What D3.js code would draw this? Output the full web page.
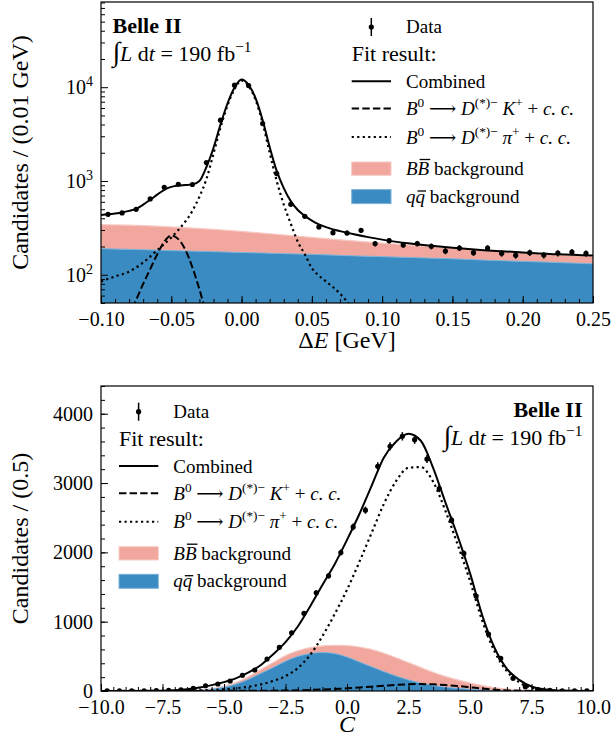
<!DOCTYPE html>
<html lang="en">
<head>
<meta charset="utf-8">
<title>Belle II fit projections</title>
<script src="https://d3js.org/d3.v7.min.js"></script>
<style>
  body { margin: 0; background: #fff; }
  svg { font-family: "Liberation Serif", "DejaVu Serif", serif; }
  .tick text { font-size: 20px; fill: #000; font-family: "Liberation Serif", serif; }
  .tick line { stroke: #000; stroke-width: 1; }
</style>
</head>
<body>
<svg id="chart" width="612" height="746"></svg>
<script>

// ---------- upper panel : Delta E ----------
const deBins = [-0.095,-0.085,-0.075,-0.065,-0.055,-0.045,-0.035,-0.025,-0.015,-0.005,
  0.005,0.015,0.025,0.035,0.045,0.055,0.065,0.075,0.085,0.095,0.105,0.115,0.125,0.135,
  0.145,0.155,0.165,0.175,0.185,0.195,0.205,0.215,0.225,0.235,0.245];
const deCounts = [441,456,499,643,857,923,917,1572,4447,10500,
  10400,4093,1200,564,420,323,281,279,298,215,231,208,215,201,
  179,193,172,193,169,161,172,162,170,175,169];

const deFitX = [-0.10,-0.095,-0.09,-0.085,-0.08,-0.075,-0.07,-0.065,-0.06,-0.055,-0.05,-0.045,
  -0.04,-0.035,-0.03,-0.025,-0.02,-0.015,-0.01,-0.005,0,0.005,0.01,0.015,0.02,0.025,0.03,
  0.035,0.04,0.045,0.05,0.055,0.06,0.065,0.07,0.08,0.09,0.10,0.12,0.15,0.175,0.20,0.225,0.25];
const deCombined = [434,441,450,462,480,505,560,630,715,805,865,895,
  905,920,1000,1410,2250,4000,6700,9900,12100,10600,7600,4450,2300,1280,840,
  610,490,425,378,345,322,305,292,270,252,237,215,194,182,173,165,160];

const dePiX = [-0.10,-0.09,-0.08,-0.07,-0.06,-0.05,-0.045,-0.04,-0.035,-0.03,-0.025,-0.02,
  -0.015,-0.01,-0.005,0,0.005,0.01,0.015,0.02,0.025,0.03,0.035,0.04,0.045,0.05,0.055,
  0.06,0.065,0.07,0.076,0.085];
const dePi = [85,96,108,135,183,250,300,370,480,680,1050,1950,
  3700,6400,9550,11750,10300,7300,4150,2000,1000,560,350,225,165,118,98,
  85,74,63,50,38];

const deKX = [-0.085,-0.08,-0.075,-0.07,-0.065,-0.06,-0.055,-0.05,-0.045,-0.04,-0.035,-0.03,-0.025,-0.02];
const deK = [28,38,54,80,115,165,225,262,240,185,120,70,38,20];

const deBkgX = [-0.10,-0.075,-0.05,-0.025,0,0.025,0.05,0.075,0.10,0.125,0.15,0.175,0.20,0.225,0.25];
const deQQ = [190,186,181,177,173,169,165,160,156,152,148,143,139,135,131];
const deBB = [152,150,143,131,117,101,85,73,62,53,45,39,33,28,27];

const deXTicks = [-0.10,-0.05,0.00,0.05,0.10,0.15,0.20,0.25];
const deYTicks = [100,1000,10000];

// ---------- lower panel : C ----------
const cBins = [-9.75,-9.25,-8.75,-8.25,-7.75,-7.25,-6.75,-6.25,-5.75,-5.25,-4.75,-4.25,-3.75,-3.25,
  -2.75,-2.25,-1.75,-1.25,-0.75,-0.25,0.25,0.75,1.25,1.75,2.25,2.75,3.25,3.75,4.25,4.75,
  5.25,5.75,6.25,6.75,7.25,7.75,8.25,8.75,9.25,9.75];
const cCounts = [1,1,2,2,4,9,18,38,76,101,144,226,303,461,
  630,840,1120,1417,1662,1998,2367,2608,3242,3530,3674,3626,3347,2921,2464,1984,
  1369,821,471,183,62,22,8,3,1,1];

const cFitX = [-10,-9.5,-9,-8.5,-8,-7.5,-7,-6.5,-6,-5.5,-5,-4.5,-4,-3.5,-3,-2.5,-2,-1.5,-1,-0.5,
  0,0.5,1,1.5,2,2.5,3,3.5,4,4.5,5,5.5,6,6.5,7,7.5,8,8.5,9,9.5,10];
const cCombined = [0.5,0.6,0.8,1.2,2,5,12,26,50,85,128,185,268,375,530,705,930,1220,1530,1830,
  2180,2550,2960,3370,3600,3710,3610,3220,2720,2230,1700,1090,620,320,160,65,24,8,3,1.5,1];
const cPi = [0.2,0.3,0.4,0.5,0.8,1.5,3,6,10,16,25,40,62,95,145,215,330,520,790,1110,
  1460,1860,2280,2700,3030,3220,3230,3020,2600,2110,1590,1010,570,285,125,48,17,6,2,1,0.5];
const cK = [0.3,0.3,0.3,0.4,0.4,0.5,0.6,0.8,1,1.3,1.7,2.2,3,4,5,7,10,15,22,30,
  38,50,62,75,88,97,100,96,86,72,54,35,19,9,4,1.5,0.6,0.3,0.2,0.1,0.1];
const cQQ = [0,0,0,0,0,0,0.5,3,10,25,55,100,170,255,340,430,500,540,555,540,
  490,420,350,280,215,160,115,80,55,38,25,15,9,5,3,1.5,1,0.5,0.3,0.2,0.1];
const cBB = [0,0,0,0,0,0,0.5,1,4,8,15,25,40,55,70,80,80,85,95,120,
  165,215,250,265,265,250,225,190,155,122,90,65,41,25,13,6.5,3,1.5,0.7,0.3,0.2];

const cXTicks = [-10,-7.5,-5,-2.5,0,2.5,5,7.5,10];
const cYTicks = [0,1000,2000,3000,4000];

// ---------- drawing ----------
const svg = d3.select('#chart');
const left = 101, right = 593;
const pink = '#f1a79d', blue = '#3a8bc2';
const DASH = '7.4,3.2', DOT = '2.2,3.3';

function drawPanel(p) {
  const x = d3.scaleLinear().domain(p.xDomain).range([left, right]);
  const y = p.y;
  const id = p.name + '-clip';
  svg.append('clipPath').attr('id', id).append('rect')
    .attr('x', left).attr('y', p.top).attr('width', right - left).attr('height', p.bottom - p.top);
  const g = svg.append('g').attr('clip-path', `url(#${id})`);

  // stacked backgrounds
  const bg = p.bkgX.map((v, i) => ({x: v, qq: p.qq[i], tot: p.qq[i] + p.bb[i]}));
  const yBase = y.domain()[0];
  g.append('path').datum(bg)
    .attr('d', d3.area().curve(d3.curveMonotoneX).x(d => x(d.x)).y0(d => y(Math.max(d.qq, yBase))).y1(d => y(Math.max(d.tot, yBase))))
    .attr('fill', pink);
  g.append('path').datum(bg)
    .attr('d', d3.line().curve(d3.curveMonotoneX).x(d => x(d.x)).y(d => y(Math.max(d.tot, yBase))))
    .attr('fill', 'none').attr('stroke', '#f6cbc5').attr('stroke-width', 1.2);
  g.append('path').datum(bg)
    .attr('d', d3.area().curve(d3.curveMonotoneX).x(d => x(d.x)).y0(p.bottom + 2).y1(d => y(Math.max(d.qq, yBase))))
    .attr('fill', blue);
  g.append('path').datum(bg)
    .attr('d', d3.line().curve(d3.curveMonotoneX).x(d => x(d.x)).y(d => y(Math.max(d.qq, yBase))))
    .attr('fill', 'none').attr('stroke', '#7fb2d8').attr('stroke-width', 1);

  // fit components
  function curve(xs, ys, dash, w) {
    const pts = xs.map((v, i) => [x(v), y(Math.max(ys[i], p.floor))]);
    g.append('path').datum(pts)
      .attr('d', d3.line().curve(d3.curveMonotoneX))
      .attr('fill', 'none').attr('stroke', '#000').attr('stroke-width', w)
      .attr('stroke-dasharray', dash);
  }
  curve(p.kX, p.k, DASH, 2);
  curve(p.piX, p.pi, DOT, 2.2);
  curve(p.fitX, p.comb, null, 2);

  // data with sqrt(N) error bars
  const pts = p.bins.map((v, i) => ({x: v, n: p.counts[i]}));
  g.append('g').selectAll('line').data(pts).join('line')
    .attr('x1', d => x(d.x)).attr('x2', d => x(d.x))
    .attr('y1', d => y(Math.max(d.n - Math.sqrt(d.n), p.floor)))
    .attr('y2', d => y(d.n + Math.sqrt(d.n)))
    .attr('stroke', '#000').attr('stroke-width', 1.5);
  g.append('g').selectAll('circle').data(pts).join('circle')
    .attr('cx', d => x(d.x)).attr('cy', d => y(d.n)).attr('r', 2.6).attr('fill', '#000');

  // axes, ticks pointing inward
  const ax = svg.append('g').attr('transform', `translate(0,${p.bottom})`)
    .call(d3.axisBottom(x).tickValues(p.xTicks).tickFormat(p.xFmt).tickSize(-7).tickPadding(9));
  const axm = svg.append('g').attr('transform', `translate(0,${p.bottom})`)
    .call(d3.axisBottom(x).tickValues(p.xMinor).tickFormat('').tickSize(-4));
  const ay = svg.append('g').attr('transform', `translate(${left},0)`)
    .call(d3.axisLeft(y).tickValues(p.yTicks).tickFormat(p.yFmt).tickSize(-7).tickPadding(8));
  const aym = svg.append('g').attr('transform', `translate(${left},0)`)
    .call(d3.axisLeft(y).tickValues(p.yMinor).tickFormat('').tickSize(-4));
  [ax, axm, ay, aym].forEach(a => a.select('.domain').remove());
  if (p.logLabels) {
    ay.selectAll('.tick text').each(function(d) {
      const t = d3.select(this).text('10');
      t.append('tspan').attr('dy', '-0.55em').attr('font-size', '14px').text(Math.round(Math.log10(d)));
    });
  }

  svg.append('rect').attr('x', left).attr('y', p.top).attr('width', right - left).attr('height', p.bottom - p.top)
    .attr('fill', 'none').attr('stroke', '#000').attr('stroke-width', 1.2);

  // axis titles
  const xl = svg.append('text').attr('x', (left + right) / 2).attr('y', p.xLabelY)
    .attr('text-anchor', 'middle').attr('font-size', 24);
  p.xLabel(xl);
  svg.append('text').attr('transform', `translate(28,${(p.top + p.bottom) / 2}) rotate(-90)`)
    .attr('text-anchor', 'middle').attr('font-size', 24).text(p.yLabel);
}

// rich text: [string, kind] with kind containing i (italic), s (superscript), I (big integral)
function rich(sel, parts, size) {
  sel.attr('xml:space', 'preserve').attr('font-size', size);
  let up = false;
  parts.forEach(([s, k]) => {
    const t = sel.append('tspan').text(s);
    if (k.includes('i')) t.attr('font-style', 'italic');
    if (k.includes('s')) {
      t.attr('font-size', size * 0.7);
      if (!up) t.attr('dy', -size * 0.42);
      up = true;
    } else if (up) {
      t.attr('dy', size * 0.42);
      up = false;
    }
    if (k.includes('I')) t.attr('font-size', size * 1.25).attr('font-style', 'italic');
  });
  return sel;
}

function overline(textSel, idx, baseline, rise) {
  const e = textSel.node().getExtentOfChar(idx);
  svg.append('line').attr('x1', e.x + 2).attr('x2', e.x + e.width + 1)
    .attr('y1', baseline - rise).attr('y2', baseline - rise)
    .attr('stroke', '#000').attr('stroke-width', 1.3);
}

function legend(x0, D) {
  const g = svg.append('g');
  const hx = x0 + 19.6, tx = x0 + 54.3;
  g.append('line').attr('x1', hx).attr('x2', hx).attr('y1', D - 9).attr('y2', D + 9)
    .attr('stroke', '#000').attr('stroke-width', 1.5);
  g.append('circle').attr('cx', hx).attr('cy', D).attr('r', 2.6);
  g.append('text').attr('x', tx).attr('y', D + 6).attr('font-size', 19).text('Data');
  g.append('text').attr('x', x0).attr('y', D + 34).attr('font-size', 22).text('Fit result:');

  const arrow = ' \u27f6 ';
  const rows = [
    {dy: 54.3, dash: null, parts: [['Combined', '']]},
    {dy: 81.6, dash: DASH, parts: [['B','i'],['0','s'],[arrow,''],['D','i'],['(*)\u2212','s'],[' K','i'],['+','s'],[' + ',''],['c. c.','i']]},
    {dy: 110, dash: DOT, parts: [['B','i'],['0','s'],[arrow,''],['D','i'],['(*)\u2212','s'],[' \u03c0','i'],['+','s'],[' + ',''],['c. c.','i']]}
  ];
  rows.forEach(r => {
    g.append('line').attr('x1', x0).attr('x2', x0 + 39.3).attr('y1', D + r.dy).attr('y2', D + r.dy)
      .attr('stroke', '#000').attr('stroke-width', 2).attr('stroke-dasharray', r.dash);
    rich(g.append('text').attr('x', tx).attr('y', D + r.dy + 6.5), r.parts, 19);
  });

  g.append('rect').attr('x', x0).attr('y', D + 135).attr('width', 39.3).attr('height', 13.3)
    .attr('fill', pink).attr('stroke', '#f6cbc5');
  const tb = rich(g.append('text').attr('x', tx).attr('y', D + 148), [['BB','i'],[' background','']], 19);
  overline(tb, 1, D + 148, 15.5);
  g.append('rect').attr('x', x0).attr('y', D + 162.6).attr('width', 39.3).attr('height', 14)
    .attr('fill', blue).attr('stroke', '#7fb2d8');
  const tq = rich(g.append('text').attr('x', tx).attr('y', D + 175.5), [['qq','i'],[' background','']], 19);
  overline(tq, 1, D + 175.5, 11.5);
}

function lumi(x, yBelle, yLumi, anchor) {
  svg.append('text').attr('x', x).attr('y', yBelle).attr('text-anchor', anchor)
    .attr('font-size', 22).attr('font-weight', 'bold').text('Belle II');
  rich(svg.append('text').attr('x', x).attr('y', yLumi).attr('text-anchor', anchor),
    [['\u222b','I'],['L','i'],[' d',''],['t','i'],[' = 190 fb',''],['\u22121','s']], 22);
}

// upper panel
const logMinor = [];
[10, 100, 1000, 10000].forEach(b => { for (let k = 2; k <= 9; k++) if (b * k >= 50 && b * k <= 81000) logMinor.push(b * k); });
drawPanel({
  name: 'de', top: 2, bottom: 303,
  xDomain: [-0.10, 0.25],
  y: d3.scaleLog().domain([50, 81000]).range([303, 2]),
  floor: 1,
  bins: deBins, counts: deCounts,
  fitX: deFitX, comb: deCombined, piX: dePiX, pi: dePi, kX: deKX, k: deK,
  bkgX: deBkgX, qq: deQQ, bb: deBB,
  xTicks: deXTicks, xMinor: d3.range(-0.10, 0.2501, 0.01), xFmt: d3.format('.2f'),
  yTicks: deYTicks, yMinor: logMinor, yFmt: () => '', logLabels: true,
  xLabelY: 348,
  xLabel: t => rich(t, [['\u0394',''],['E','i'],[' [GeV]','']], 24),
  yLabel: 'Candidates / (0.01 GeV)'
});
legend(351.7, 27);
lumi(112.5, 33, 61, 'start');

// lower panel
drawPanel({
  name: 'c', top: 386, bottom: 691,
  xDomain: [-10, 10],
  y: d3.scaleLinear().domain([0, 4400]).range([691, 386]),
  floor: 0,
  bins: cBins, counts: cCounts,
  fitX: cFitX, comb: cCombined, piX: cFitX, pi: cPi, kX: cFitX, k: cK,
  bkgX: cFitX, qq: cQQ, bb: cBB,
  xTicks: cXTicks, xMinor: d3.range(-10, 10.01, 0.5), xFmt: d3.format('.1f'),
  yTicks: cYTicks, yMinor: d3.range(0, 4401, 200), yFmt: d3.format('d'), logLabels: false,
  xLabelY: 732,
  xLabel: t => rich(t, [['C','i']], 24),
  yLabel: 'Candidates / (0.5)'
});
legend(119, 411.7);
lumi(582.5, 416.7, 445, 'end');

</script>
</body>
</html>
